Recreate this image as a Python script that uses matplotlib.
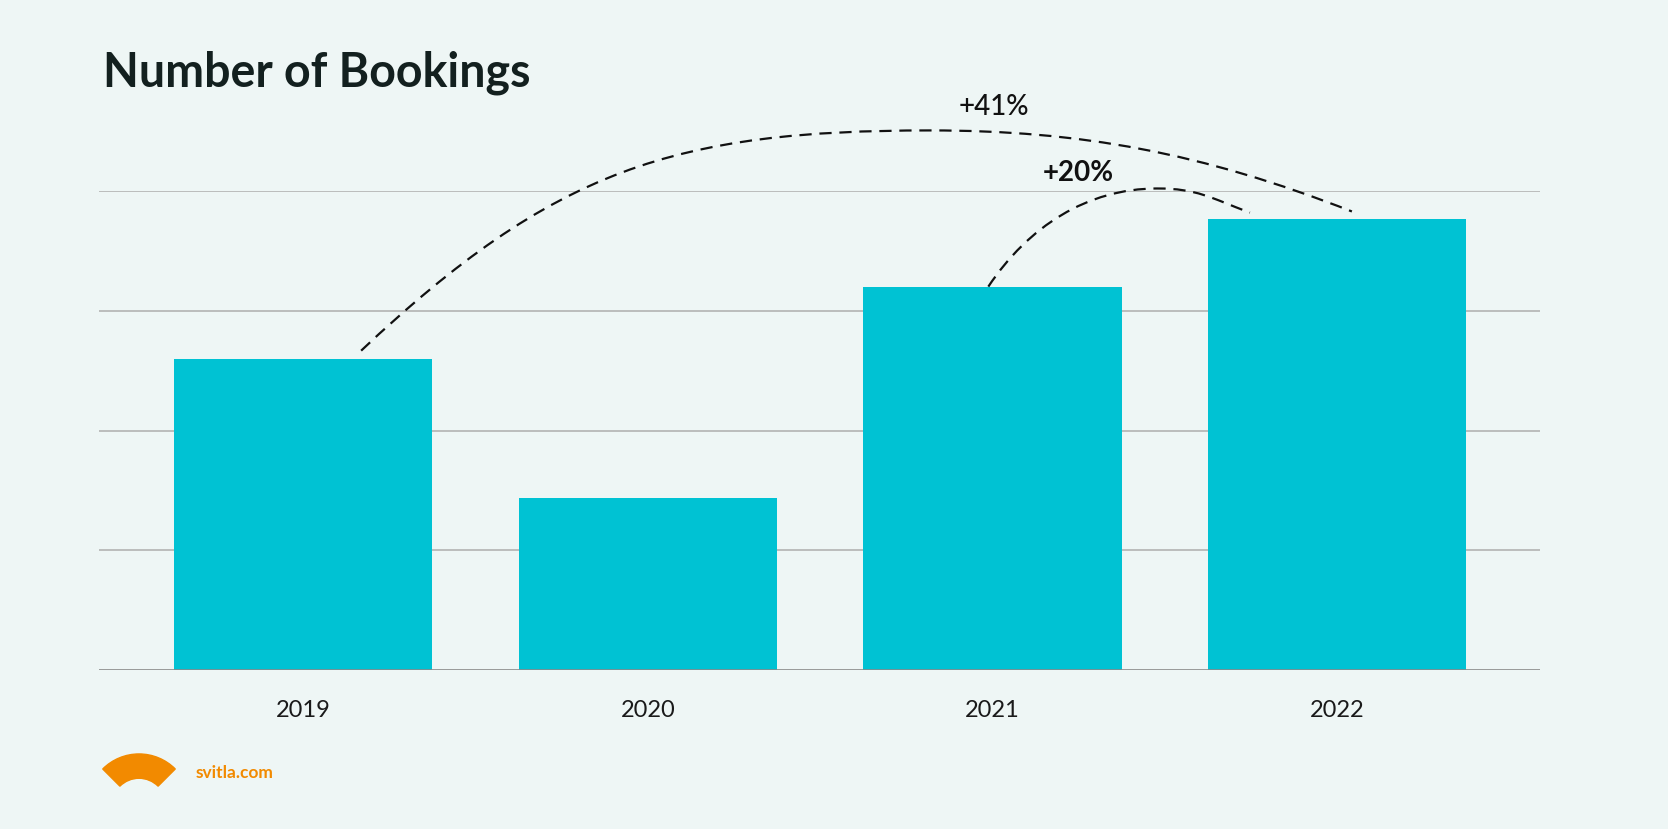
import matplotlib
matplotlib.use("Agg")
import matplotlib.pyplot as plt
from matplotlib.path import Path
from matplotlib.patches import PathPatch, Wedge

plt.rcParams['font.family'] = ['Lato', 'DejaVu Sans']

# data (no y scale shown, units are arbitrary)
years = ["2019", "2020", "2021", "2022"]
bookings = [2.60, 1.44, 3.20, 3.77]
growth_labels = ["+41%", "+20%"]

BG = "#eef6f5"
BAR = "#00c2d3"
ORANGE = "#f28a00"
DARK = "#13201f"

fig = plt.figure(figsize=(16.68, 8.295), dpi=100)
fig.patch.set_facecolor(BG)

ax = fig.add_axes([98.9 / 1668, 159 / 829, 1441.5 / 1668, 478.5 / 829])
ax.set_facecolor(BG)
x = list(range(len(years)))
ax.bar(x, bookings, width=0.75, color=BAR, zorder=2)

ax.set_xlim(-0.593, 3.59)
ax.set_ylim(0, 4)
ax.set_yticks([1, 2, 3, 4])
ax.yaxis.grid(True, color="#adadad", linewidth=1.1)
ax.set_axisbelow(True)
ax.axhline(0, color="#8a8a8a", linewidth=1.2, zorder=3)
for s in ax.spines.values():
    s.set_visible(False)
ax.set_yticklabels([])
ax.tick_params(axis="y", length=0)
ax.set_xticks(x)
ax.set_xticklabels(years, fontsize=17, color="#1a1a1a")
ax.tick_params(axis="x", length=0, pad=21)


def arc(x0, y0, x1, y1, peak_x, peak_y, c):
    # two cubic pieces joined at a flat peak
    a, b, cc, d = c
    verts = [(x0, y0), (x0 + a[0], y0 + a[1]), (peak_x - b, peak_y), (peak_x, peak_y),
             (peak_x + cc, peak_y), (x1 - d[0], y1 + d[1]), (x1, y1)]
    codes = [Path.MOVETO] + [Path.CURVE4] * 6
    p = PathPatch(Path(verts, codes), fill=False, edgecolor="#111111", linewidth=1.6,
                  linestyle=(0, (5.5, 3.5)), clip_on=False, zorder=4)
    ax.add_patch(p)


# 2019 -> 2022
arc(x[0] + 0.168, bookings[0] + 0.067, x[3] + 0.043, bookings[3] + 0.06, 1.819, 4.507,
    ((0.56, 1.52), 0.74, 0.435, (0.435, 0.49)))
# 2021 -> 2022
arc(x[2] - 0.012, bookings[2] + 0.002, x[3] - 0.253, bookings[3] + 0.05, 2.478, 4.022,
    ((0.116, 0.502), 0.203, 0.116, (0.115, 0.125)))

ax.text(2.005, 4.707, growth_labels[0], ha="center", va="center", fontsize=20,
        color="#111111", fontweight="medium")
ax.text(2.25, 4.156, growth_labels[1], ha="center", va="center", fontsize=20,
        color="#111111", fontweight="bold")

fig.text(103 / 1668, 1 - 86 / 829, "Number of Bookings", ha="left", va="baseline",
         fontsize=33.5, fontweight="bold", color=DARK)

# logo
lax = fig.add_axes([0, 0, 1, 1])
lax.set_xlim(0, 1668)
lax.set_ylim(0, 829)
lax.axis("off")
lax.add_patch(Wedge((139, 829 - 805.3), 51.3, 45, 135, width=24.3, color=ORANGE))
lax.text(196, 829 - 773, "svitla.com", ha="left", va="center", fontsize=12.5,
         fontweight="bold", color=ORANGE)

fig.savefig("out.png", dpi=100, facecolor=BG)
